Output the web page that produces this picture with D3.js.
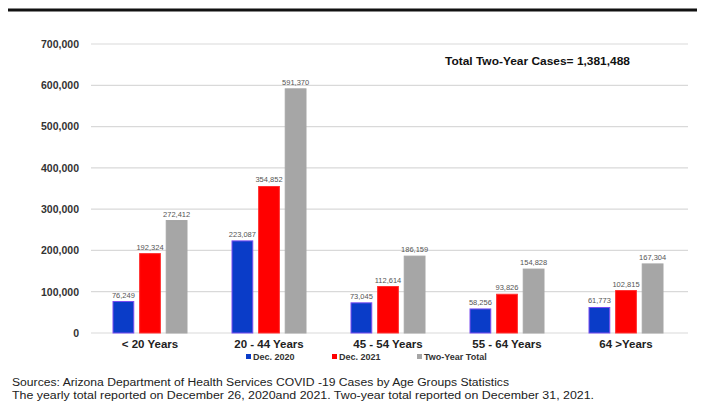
<!DOCTYPE html>
<html><head><meta charset="utf-8">
<script src="https://cdn.jsdelivr.net/npm/d3@7"></script>
<style>
html,body{margin:0;padding:0;background:#fff;}
svg{display:block;font-family:"Liberation Sans",Arial,sans-serif;}
</style></head>
<body><svg id="c" width="702" height="405"></svg>
<script>
const categories = ["< 20 Years", "20 - 44 Years", "45 - 54 Years", "55 - 64 Years", "64 >Years"];
const seriesNames = ["Dec. 2020", "Dec. 2021", "Two-Year Total"];
const dec2020 = [76249, 223087, 73045, 58256, 61773];
const dec2021 = [192324, 354852, 112614, 93826, 102815];
const twoYear = [272412, 591370, 186159, 154828, 167304];
const yTicks = [0, 100000, 200000, 300000, 400000, 500000, 600000, 700000];
const colors = ["#0a3cc8", "#ff0000", "#a6a6a6"];
const strokes = ["#7a4cf0", "#ff3030", "#a6a6a6"];
const totalLabel = "Total Two-Year Cases= 1,381,488";
const sourceLines = [
  "Sources: Arizona Department of Health Services COVID -19 Cases by Age Groups Statistics",
  "The yearly total reported on December 26, 2020and 2021. Two-year total reported on December 31, 2021."
];

const svg = d3.select("#c");
const series = [dec2020, dec2021, twoYear];

// top rule
svg.append("line").attr("x1", 8).attr("x2", 697).attr("y1", 10).attr("y2", 10)
  .attr("stroke", "#111").attr("stroke-width", 3);

const y = d3.scaleLinear().domain([0, 700000]).range([333, 44]);
const x = d3.scaleBand().domain(categories).range([90.5, 685.5]).paddingInner(0).paddingOuter(0);
const inner = d3.scaleBand().domain(seriesNames).range([-37, 37]).paddingInner(0.22);

// gridlines
svg.append("g").selectAll("line").data(yTicks).join("line")
  .attr("x1", 91).attr("x2", 688)
  .attr("y1", d => y(d)).attr("y2", d => y(d))
  .attr("stroke", "#d9d9d9").attr("stroke-width", 1.2);

// y axis labels
const yAxis = d3.axisLeft(y).tickValues(yTicks).tickFormat(d3.format(",")).tickSize(0).tickPadding(0);
const ga = svg.append("g").attr("transform", "translate(79,0)").call(yAxis);
ga.select(".domain").remove();
ga.selectAll("text").attr("font-size", 10.5).attr("font-weight", "bold").attr("fill", "#333")
  .attr("font-family", "'Liberation Sans',Arial,sans-serif");

// bars
series.forEach((vals, si) => {
  const g = svg.append("g");
  g.selectAll("rect").data(vals).join("rect")
    .attr("x", (d, i) => x(categories[i]) + x.bandwidth() / 2 + inner(seriesNames[si]))
    .attr("width", inner.bandwidth())
    .attr("y", d => y(d))
    .attr("height", d => y(0) - y(d))
    .attr("fill", colors[si])
    .attr("stroke", strokes[si]).attr("stroke-width", 1);
  g.selectAll("text").data(vals).join("text")
    .attr("x", (d, i) => x(categories[i]) + x.bandwidth() / 2 + inner(seriesNames[si]) + inner.bandwidth() / 2)
    .attr("y", d => y(d) - 4)
    .attr("text-anchor", "middle").attr("font-size", 7.5).attr("fill", "#555")
    .text(d => d3.format(",")(d));
});

// x axis labels
const xAxis = d3.axisBottom(x).tickSize(0).tickPadding(0);
const gx = svg.append("g").attr("transform", "translate(0,340)").call(xAxis);
gx.select(".domain").remove();
gx.selectAll("text").attr("font-size", 11.5).attr("font-weight", "bold").attr("fill", "#222")
  .attr("font-family", "'Liberation Sans',Arial,sans-serif");

// legend
const legX = [246, 332, 417];
const leg = svg.append("g");
seriesNames.forEach((n, i) => {
  leg.append("rect").attr("x", legX[i]).attr("y", 354).attr("width", 5).attr("height", 5).attr("fill", colors[i]);
  leg.append("text").attr("x", legX[i] + 7).attr("y", 360).attr("font-size", 9).attr("font-weight", "bold")
    .attr("fill", "#333").text(n);
});

// total annotation
svg.append("text").attr("x", 445).attr("y", 65).attr("font-size", 10.5).attr("font-weight", "bold")
  .attr("fill", "#111").attr("textLength", 185).attr("lengthAdjust", "spacingAndGlyphs").text(totalLabel);

// sources
svg.append("g").selectAll("text").data(sourceLines).join("text")
  .attr("x", 12).attr("y", (d, i) => 386 + i * 13)
  .attr("font-size", 10).attr("fill", "#222").attr("textLength", (d, i) => i === 0 ? 497 : 582)
  .attr("lengthAdjust", "spacingAndGlyphs")
  .text(d => d);
</script></body></html>
